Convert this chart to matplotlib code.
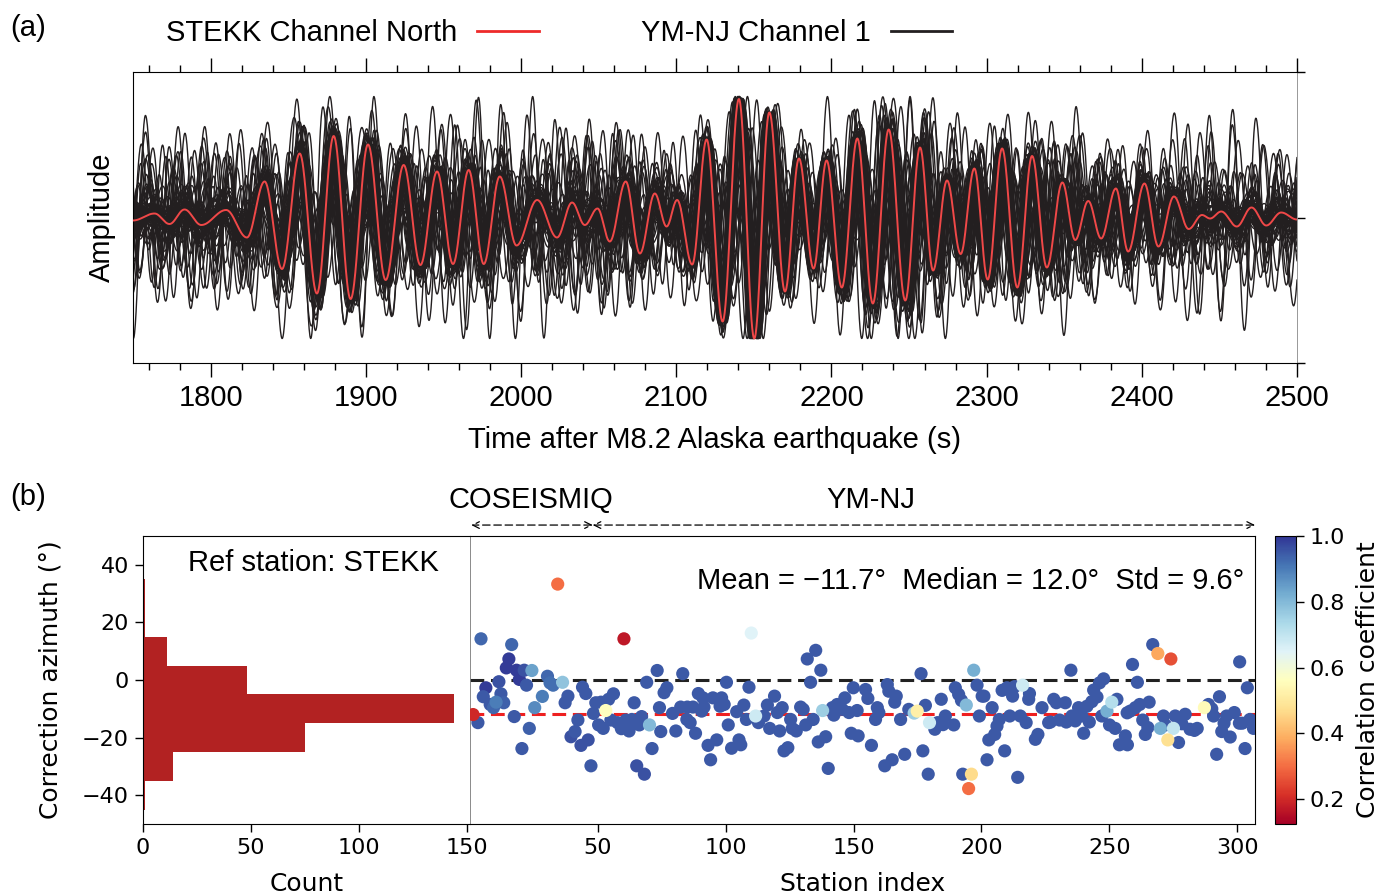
import numpy as np
import matplotlib
matplotlib.use("Agg")
import matplotlib.pyplot as plt
from matplotlib.lines import Line2D
from matplotlib.colors import Normalize
from matplotlib.ticker import MultipleLocator

ARIAL = "Liberation Sans"
plt.rcParams["font.family"] = ["DejaVu Sans"]

# ---------------- Panel (a) data ----------------
# Reference (STEKK, north) trace: successive extrema
ref_extrema_time = [1750.0, 1763.9, 1773.5, 1783.2, 1794.0, 1810.0, 1823.4, 1834.8, 1846.0, 1857.4,
                    1868.5, 1879.3, 1890.2, 1901.4, 1912.8, 1924.4, 1935.2, 1945.9, 1956.2, 1966.3,
                    1976.0, 1986.3, 1997.1, 2010.4, 2023.2, 2032.9, 2041.1, 2049.3, 2057.2, 2067.5,
                    2076.6, 2086.2, 2093.8, 2100.6, 2110.3, 2119.6, 2129.9, 2140.4, 2150.3, 2160.0,
                    2170.1, 2179.1, 2188.5, 2196.9, 2206.7, 2216.7, 2226.7, 2236.9, 2247.6, 2257.1,
                    2265.5, 2274.5, 2283.3, 2292.1, 2300.7, 2310.0, 2319.8, 2329.3, 2338.8, 2348.8,
                    2357.1, 2365.5, 2373.8, 2383.3, 2391.2, 2401.7, 2410.7, 2420.7, 2430.2, 2438.8,
                    2444.0, 2451.2, 2461.2, 2470.7, 2480.2, 2489.8, 2500.0]
ref_extrema_amp = [-0.03, 0.04, -0.065, 0.08, -0.075, 0.075, -0.20, 0.36, -0.515, 0.64,
                   -0.76, 0.815, -0.815, 0.73, -0.625, 0.525, -0.475, 0.46, -0.465, 0.475,
                   -0.465, 0.41, -0.28, 0.175, -0.20, 0.15, -0.075, 0.09, -0.24, 0.36,
                   -0.36, 0.24, -0.09, 0.175, -0.47, 0.78, -1.04, 1.185, -1.21, 1.05,
                   -0.74, 0.59, -0.51, 0.57, -0.70, 0.79, -0.86, 0.88, -0.83, 0.70,
                   -0.53, 0.37, -0.365, 0.49, -0.62, 0.69, -0.70, 0.615, -0.50, 0.35,
                   -0.225, 0.165, -0.21, 0.29, -0.34, 0.34, -0.29, 0.21, -0.115, 0.025,
                   -0.01, 0.06, -0.09, 0.10, -0.08, 0.05, -0.02]

# YM-NJ channel-1 traces described relative to the reference trace
trace_gain = [1.00, 1.08, 0.94, 1.15, 0.90, 1.03, 0.97, 1.12, 0.88, 1.06, 1.00, 0.95, 1.10, 0.92, 1.18,
              1.02, 0.98, 1.05, 0.91, 1.13, 0.96, 1.07, 0.99, 1.01, 0.93, 1.09, 1.04, 0.89, 1.16, 0.97,
              1.00, 1.11, 0.94, 1.06, 0.98, 1.03,
              0.55, 0.40, 0.65, 0.30, 0.50, 0.70, 0.35, 0.60, 0.45, 0.25, 0.58, 0.42, 0.68, 0.33,
              0.52, 0.62, 0.38, 0.48, 0.72, 0.28, 0.56, 0.44]
trace_shift = [0.0, 1.2, -1.5, 2.0, -2.4, 0.6, -0.8, 2.6, -2.9, 1.7, -0.3, -1.9, 0.9, 3.0, -1.1,
               2.3, -2.6, 0.3, 1.4, -0.6, -3.2, 2.8, 0.8, -1.4, 1.9, -2.2, 0.4, 2.5, -0.9, 1.1,
               -1.7, 0.2, 2.1, -2.0, 3.3, -0.4,
               4.0, -5.0, 2.5, -3.5, 5.5, -4.5, 3.0, -2.0, 6.0, -6.0, 1.5, -5.5, 4.5, -3.0,
               5.0, -1.0, 3.5, -4.0, 2.0, -2.5, 5.8, -5.8]
trace_coda_mix = [0.20, 0.15, 0.30, 0.12, 0.25, 0.35, 0.18, 0.22, 0.28, 0.10, 0.32, 0.16, 0.26, 0.14, 0.30,
                  0.21, 0.12, 0.27, 0.19, 0.24, 0.33, 0.11, 0.29, 0.17, 0.23, 0.15, 0.31, 0.20, 0.13, 0.26,
                  0.18, 0.34, 0.22, 0.16, 0.28, 0.12,
                  0.80, 0.95, 0.70, 1.00, 0.85, 0.65, 0.90, 0.75, 0.88, 1.00, 0.78, 0.92, 0.68, 0.97,
                  0.82, 0.72, 0.94, 0.86, 0.66, 0.99, 0.76, 0.90]
trace_coda_lag = [310, 455, 120, 590, 245, 60, 380, 505, 175, 640, 290, 415, 95, 530, 210,
                  355, 470, 145, 600, 265, 40, 425, 560, 195, 330, 490, 80, 615, 235, 370,
                  150, 545, 280, 440, 105, 575,
                  140, 520, 270, 35, 400, 610, 205, 335, 480, 90, 565, 250, 15, 440,
                  165, 380, 595, 70, 300, 510, 225, 655]
trace_coda_rate = [1.05, 1.12, 1.02, 1.15, 1.08, 1.10, 1.14, 1.04, 1.18, 1.06, 1.11, 1.09, 1.16, 1.03, 1.13,
                   1.07, 1.17, 1.12, 1.05, 1.15, 1.08, 1.12, 1.02, 1.16, 1.10, 1.06, 1.14, 1.09, 1.18, 1.04,
                   1.13, 1.07, 1.15, 1.11, 1.05, 1.14,
                   1.22, 1.30, 1.15, 1.38, 1.25, 1.18, 1.32, 1.20, 1.28, 1.35, 1.19, 1.31, 1.24, 1.40,
                   1.17, 1.29, 1.22, 1.34, 1.18, 1.26, 1.32, 1.21]

time_start, time_end = 1750, 2500
amp_limit = 1.455

# ---------------- Panel (b) data ----------------
hist_edges = [-45, -35, -25, -15, -5, 5, 15, 25, 35]
hist_counts = [1, 14, 75, 144, 48, 11, 1, 1]

station_index = [1.2, 3.1, 4.3, 5.2, 6.2, 7.9, 9.2, 10.2, 11.3, 12.1, 13.2, 14.2, 15.2, 16.3, 17.3, 18.2,
                 19.3, 20.3, 21.2, 22.1, 23.2, 24.2, 25.3, 28.3, 30.3, 31.3, 32.5, 34.3, 36.2, 37.2,
                 38.3, 39.5, 41.1, 42.2, 43.4, 44.0, 45.3, 46.2, 47.3, 48.3, 49.2, 50.3, 51.2, 52.1,
                 53.1, 54.2, 55.1, 56.1, 57.7, 59.2, 60.2, 61.0, 62.2, 63.3, 64.2, 65.2, 66.2, 67.1,
                 68.2, 69.1, 70.2, 71.2, 73.2, 74.1, 74.6, 75.9, 77.0, 79.2, 80.5, 82.4, 83.2, 84.8,
                 85.0, 86.1, 87.2, 88.2, 89.3, 90.6, 91.1, 91.5, 93.1, 94.1, 95.0, 96.5, 97.8, 98.4,
                 99.4, 100.3, 101.0, 102.3, 104.3, 105.2, 105.9, 107.1, 108.1, 109.1, 110.0, 111.7,
                 113.0, 112.8, 115.0, 116.3, 117.2, 119.1, 120.2, 121.1, 122.1, 122.8, 124.3, 125.4,
                 126.0, 127.6, 129.3, 130.3, 131.3, 131.9, 133.2, 134.2, 135.2, 136.2, 137.2, 137.9,
                 139.1, 140.1, 141.7, 142.3, 143.6, 145.6, 146.6, 148.2, 149.1, 149.9, 151.4, 151.8,
                 154.7, 155.6, 157.0, 158.6, 159.3, 159.9, 162.2, 163.2, 163.8, 165.1, 166.1, 166.7,
                 168.4, 170.0, 171.6, 173.7, 174.9, 176.4, 177.1, 178.1, 179.2, 179.7, 181.8, 182.9,
                 184.3, 185.0, 185.9, 189.2, 189.8, 191.1, 192.2, 192.7, 194.1, 195.0, 196.1, 197.0,
                 198.3, 199.2, 200.3, 201.0, 202.2, 202.9, 204.2, 205.2, 206.1, 207.0, 208.1, 209.1,
                 210.0, 211.1, 212.2, 213.0, 214.2, 215.2, 216.1, 217.5, 218.5, 218.8, 221.1, 222.1,
                 223.7, 226.3, 227.0, 228.3, 229.3, 230.6, 232.8, 233.2, 235.0, 235.4, 236.7, 238.0,
                 239.3, 240.0, 241.3, 242.2, 243.2, 243.9, 245.2, 246.2, 247.1, 247.8, 249.1, 250.1,
                 251.0, 252.3, 253.0, 254.0, 256.3, 257.0, 257.1, 258.2, 259.1, 260.2, 261.0, 261.9,
                 263.1, 264.1, 265.1, 265.6, 267.0, 269.0, 270.0, 271.2, 271.9, 272.9, 274.1, 275.1,
                 275.8, 277.1, 278.4, 279.7, 281.6, 283.3, 284.4, 287.2, 288.8, 290.1, 290.8, 292.0,
                 293.1, 294.0, 294.9, 295.9, 297.3, 298.9, 300.9, 301.0, 302.0, 303.1, 304.0, 305.0,
                 306.4]
correction_azimuth = [-12.0, -14.8, 14.3, -5.8, -2.7, -8.5, -9.6, -7.7, -0.6, -4.8, -7.9, 4.2, 7.3, 12.3, -12.7, 3.4,
                      0.2, -23.8, 3.4, -1.8, -16.8, 3.3, -9.6, -5.7, 1.3, -1.0, -1.8, 33.3, -0.8, -7.9,
                      -5.6, -19.7, -17.9, -13.9, -22.7, -2.5, -4.7, -20.8, -29.8, -11.6, -7.9, -15.6, -7.7, -16.8,
                      -10.6, -6.7, -13.9, -4.8, -14.8, -16.9, 14.3, -13.9, -17.7, -13.7, -7.9, -29.8, -15.6, -12.7,
                      -32.7, -0.8, -15.6, -23.8, 3.3, -9.6, -17.9, -4.4, -2.7, -11.6, -17.7, -9.4, 2.2, -13.7,
                      -9.4, -14.8, -9.4, -18.5, -4.7, -10.8, -6.2, -9.4, -22.7, -27.7, -6.2, -20.8, -9.1, -6.2,
                      -8.5, -0.8, -15.6, -23.7, -11.0, -20.8, -22.5, -8.7, -13.7, -2.5, 16.3, -12.5,
                      -13.0, -14.8, -12.5, -8.7, -16.8, -5.6, -11.3, -17.7, -9.6, -24.6, -23.5, -13.7,
                      -16.8, -17.7, -9.4, -10.2, -15.6, 7.3, -0.8, -13.7, 10.3, -21.5, 3.4, -10.6,
                      -19.7, -30.7, -9.6, -12.2, -8.5, -10.2, -6.2, -11.3, -18.5, -2.7, -10.6, -19.4,
                      -3.3, -6.4, -22.7, -13.7, -9.6, -11.3, -29.8, -1.6, -3.9, -27.7, -7.7, -5.6,
                      -13.7, -25.8, -10.2, -11.5, -10.8, 2.2, -24.6, -8.8, -32.7, -14.8, -17.1, -14.8,
                      -6.7, -15.5, -12.5, -15.6, -2.7, -5.0, -7.1, -32.7, -8.7, -37.7, -32.7, 3.4,
                      -1.8, -12.5, -5.6, -5.6, -27.7, -20.8, -9.6, -18.9, -16.0, -13.7, -3.6, -24.6,
                      -2.7, -12.5, -5.6, -2.3, -33.8, -12.5, -1.8, -14.8, -6.7, -4.7, -20.6, -18.9,
                      -9.6, -14.8, -14.6, -6.7, -7.9, -13.9, -7.9, -14.6, 3.4, -12.5, -14.2, -9.6,
                      -12.5, -18.5, -9.1, -14.6, -7.5, -3.5, -5.9, -1.0, -12.5, 0.4, -10.8, -15.6,
                      -7.7, -16.8, -6.7, -22.5, -19.4, -11.4, -22.5, -10.8, 5.4, -9.6, -0.8, -8.5,
                      -13.9, -18.9, -16.5, -7.7, 12.3, 9.2, -16.8, -12.5, -15.6, -20.8, 7.3, -16.8,
                      -12.5, -21.7, -15.2, -11.9, -17.1, -17.5, -16.8, -9.6, -8.5, -10.0, -12.5, -25.8,
                      -5.8, -17.9, -15.0, -12.5, -19.8, -11.3, -15.0, 6.3, -15.0, -23.8, -2.7, -13.7,
                      -16.8]
correlation = [0.20, 0.95, 0.93, 0.95, 0.99, 0.95, 0.93, 0.90, 0.96, 0.95, 0.94, 0.99, 0.99, 0.93, 0.95, 0.99,
               0.99, 0.95, 0.96, 0.95, 0.94, 0.84, 0.88, 0.90, 0.93, 0.92, 0.92, 0.30, 0.78, 0.95,
               0.95, 0.96, 0.95, 0.95, 0.96, 0.95, 0.95, 0.96, 0.95, 0.95, 0.95, 0.95, 0.95, 0.95,
               0.56, 0.95, 0.95, 0.95, 0.95, 0.95, 0.17, 0.95, 0.95, 0.95, 0.95, 0.96, 0.95, 0.95,
               0.96, 0.95, 0.80, 0.95, 0.95, 0.95, 0.95, 0.95, 0.95, 0.95, 0.95, 0.95, 0.95, 0.95,
               0.95, 0.95, 0.95, 0.95, 0.95, 0.95, 0.95, 0.95, 0.95, 0.95, 0.95, 0.95, 0.95, 0.95,
               0.95, 0.95, 0.95, 0.95, 0.95, 0.95, 0.95, 0.95, 0.95, 0.95, 0.65, 0.68,
               0.95, 0.95, 0.95, 0.95, 0.95, 0.95, 0.95, 0.95, 0.95, 0.95, 0.95, 0.95,
               0.95, 0.95, 0.95, 0.95, 0.95, 0.95, 0.95, 0.95, 0.95, 0.95, 0.95, 0.76,
               0.95, 0.95, 0.95, 0.95, 0.95, 0.95, 0.95, 0.95, 0.95, 0.95, 0.95, 0.95,
               0.95, 0.95, 0.95, 0.95, 0.95, 0.95, 0.95, 0.95, 0.95, 0.95, 0.95, 0.95,
               0.95, 0.95, 0.95, 0.76, 0.52, 0.95, 0.95, 0.95, 0.95, 0.68, 0.95, 0.95,
               0.95, 0.95, 0.95, 0.95, 0.95, 0.95, 0.95, 0.95, 0.80, 0.30, 0.47, 0.82,
               0.95, 0.95, 0.95, 0.95, 0.95, 0.95, 0.95, 0.95, 0.95, 0.95, 0.95, 0.95,
               0.95, 0.95, 0.95, 0.95, 0.95, 0.95, 0.68, 0.95, 0.95, 0.95, 0.95, 0.95,
               0.95, 0.95, 0.95, 0.95, 0.95, 0.95, 0.95, 0.95, 0.95, 0.95, 0.95, 0.95,
               0.95, 0.95, 0.95, 0.95, 0.95, 0.95, 0.95, 0.95, 0.95, 0.95, 0.82, 0.95,
               0.72, 0.95, 0.95, 0.95, 0.95, 0.95, 0.95, 0.95, 0.95, 0.95, 0.95, 0.95,
               0.95, 0.95, 0.95, 0.95, 0.95, 0.38, 0.82, 0.95, 0.95, 0.48, 0.26, 0.70,
               0.95, 0.95, 0.95, 0.95, 0.95, 0.95, 0.95, 0.55, 0.95, 0.95, 0.95, 0.95,
               0.95, 0.95, 0.95, 0.95, 0.95, 0.95, 0.95, 0.95, 0.95, 0.95, 0.95, 0.95,
               0.95]

mean_az, median_az, std_az = -11.7, 12.0, 9.6

# ---------------- helpers ----------------
t = np.arange(time_start, time_end + 0.001, 0.25)
te = np.asarray(ref_extrema_time)
ae = np.asarray(ref_extrema_amp)


def reference_at(tq):
    tq = np.clip(tq, te[0], te[-1])
    idx = np.clip(np.searchsorted(te, tq, side="right") - 1, 0, len(te) - 2)
    t0, t1 = te[idx], te[idx + 1]
    a0, a1 = ae[idx], ae[idx + 1]
    f = np.clip((tq - t0) / (t1 - t0), 0, 1)
    return a0 + (a1 - a0) * (1 - np.cos(np.pi * f)) / 2


span = time_end - time_start
ref_trace = reference_at(t)
peak = np.max(np.abs(ref_trace))

# ---------------- figure ----------------
fig = plt.figure(figsize=(13.8, 8.96), dpi=100)
W, H = 1380.0, 896.0


def box(x0, y0, x1, y1):
    return [x0 / W, 1 - y1 / H, (x1 - x0) / W, (y1 - y0) / H]


ax_a = fig.add_axes(box(133, 72, 1297, 363))
for g, s, h, d, k in zip(trace_gain, trace_shift, trace_coda_mix, trace_coda_lag, trace_coda_rate):
    main = g * reference_at(t - s)
    tw = time_start + (((t - time_start) * k + d) % span)
    coda = h * reference_at(tw)
    y = main + coda
    y = y * peak / np.max(np.abs(y))
    ax_a.plot(t, y, color="#231f20", lw=1.0, zorder=2)
ax_a.plot(t, ref_trace, color="#f04848", lw=1.4, zorder=3)

ax_a.set_xlim(time_start, time_end)
ax_a.set_ylim(-amp_limit, amp_limit)
ax_a.xaxis.set_major_locator(MultipleLocator(100))
ax_a.xaxis.set_minor_locator(MultipleLocator(20))
ax_a.tick_params(axis="x", which="both", direction="out", top=True, bottom=True,
                 labelsize=21, pad=5)
ax_a.tick_params(axis="x", which="major", length=10, width=1)
ax_a.tick_params(axis="x", which="minor", length=5, width=1)
for lab in ax_a.get_xticklabels():
    lab.set_family(ARIAL)
ax_a.yaxis.tick_right()
ax_a.set_yticks([-amp_limit, 0, amp_limit])
ax_a.tick_params(axis="y", which="both", direction="out", length=6, width=1, labelright=False)
ax_a.spines["right"].set_linewidth(0.6)
ax_a.spines["right"].set_color("#888888")
ax_a.set_xlabel("Time after M8.2 Alaska earthquake (s)", fontsize=21, family=ARIAL, labelpad=10)
ax_a.set_ylabel("Amplitude", fontsize=21, family=ARIAL, labelpad=12)
ax_a.yaxis.set_label_position("left")

handles = [Line2D([], [], color="#ee2a2a", lw=2), Line2D([], [], color="#231f20", lw=2)]
fig.legend(handles, ["STEKK Channel North", "YM-NJ Channel 1"], loc="center",
           bbox_to_anchor=(559 / W, 1 - 33 / H), ncol=2, frameon=False, markerfirst=False,
           prop={"family": ARIAL, "size": 21}, handlelength=2.1, handletextpad=0.7,
           columnspacing=3.5)

fig.text(28 / W, 1 - 28 / H, "(a)", fontsize=21, family=ARIAL, ha="center", va="center")
fig.text(28 / W, 1 - 497 / H, "(b)", fontsize=21, family=ARIAL, ha="center", va="center")

# ---------------- panel (b) histogram ----------------
ax_h = fig.add_axes(box(143, 536, 470, 824))
edges = np.asarray(hist_edges)
ax_h.barh(edges[:-1], hist_counts, height=np.diff(edges), align="edge", color="#b22222")
ax_h.set_ylim(-50, 50)
ax_h.set_xlim(0, 151.5)
ax_h.set_xticks([0, 50, 100, 150])
ax_h.set_yticks([-40, -20, 0, 20, 40])
ax_h.tick_params(labelsize=16, length=6, width=1, pad=4)
ax_h.spines["right"].set_visible(False)
ax_h.set_xlabel("Count", fontsize=18, labelpad=10)
ax_h.set_ylabel("Correction azimuth (°)", fontsize=18, labelpad=14)
ax_h.text(0.52, 0.906, "Ref station: STEKK", transform=ax_h.transAxes, ha="center",
          va="center", fontsize=21, family=ARIAL)

# ---------------- panel (b) scatter ----------------
ax_s = fig.add_axes(box(470, 536, 1255, 824), sharey=ax_h)
ax_s.set_xlim(0, 307)
ax_s.axhline(0, color="#222222", lw=2.2, ls=(0, (4.5, 2.2)), zorder=1)
ax_s.axhline(mean_az, color="#ee2020", lw=2.2, ls=(0, (4.5, 2.2)), zorder=1)
order = np.argsort(-np.asarray(correlation))
norm = Normalize(vmin=0.125, vmax=1.0)
sc = ax_s.scatter(np.asarray(station_index)[order], np.asarray(correction_azimuth)[order],
                  c=np.asarray(correlation)[order], cmap="RdYlBu", norm=norm, s=90,
                  edgecolors="none", zorder=3)
ax_s.set_xticks([50, 100, 150, 200, 250, 300])
ax_s.tick_params(axis="x", labelsize=16, length=6, width=1, pad=4)
ax_s.tick_params(axis="y", left=False, labelleft=False)
ax_s.spines["left"].set_linewidth(0.6)
ax_s.spines["left"].set_color("#777777")
ax_s.set_xlabel("Station index", fontsize=18, labelpad=10)
ax_s.text(302.7, 34.4, "Mean = \u221211.7°  Median = 12.0°  Std = 9.6°", ha="right",
          va="center", fontsize=21, family=ARIAL)

arrow_y = 53.8
arrow_kw = dict(arrowstyle="<->", linestyle=(0, (6, 3)), lw=0.9, color="black",
                shrinkA=0, shrinkB=0, mutation_scale=12)
ax_s.annotate("", xy=(0.5, arrow_y), xytext=(48, arrow_y), arrowprops=arrow_kw,
              annotation_clip=False)
ax_s.annotate("", xy=(48, arrow_y), xytext=(307, arrow_y), arrowprops=arrow_kw,
              annotation_clip=False)
ax_s.text(23.8, 62.5, "COSEISMIQ", ha="center", va="center", fontsize=21, family=ARIAL,
          clip_on=False)
ax_s.text(156.6, 62.5, "YM-NJ", ha="center", va="center", fontsize=21, family=ARIAL,
          clip_on=False)

# ---------------- colorbar ----------------
cax = fig.add_axes(box(1275, 536, 1296, 824))
cb = fig.colorbar(sc, cax=cax)
cb.set_ticks([0.2, 0.4, 0.6, 0.8, 1.0])
cb.ax.tick_params(labelsize=16, length=6, width=1, pad=4)
cb.set_label("Correlation coefficient", fontsize=18, labelpad=8)

fig.savefig("out.png", dpi=100)
